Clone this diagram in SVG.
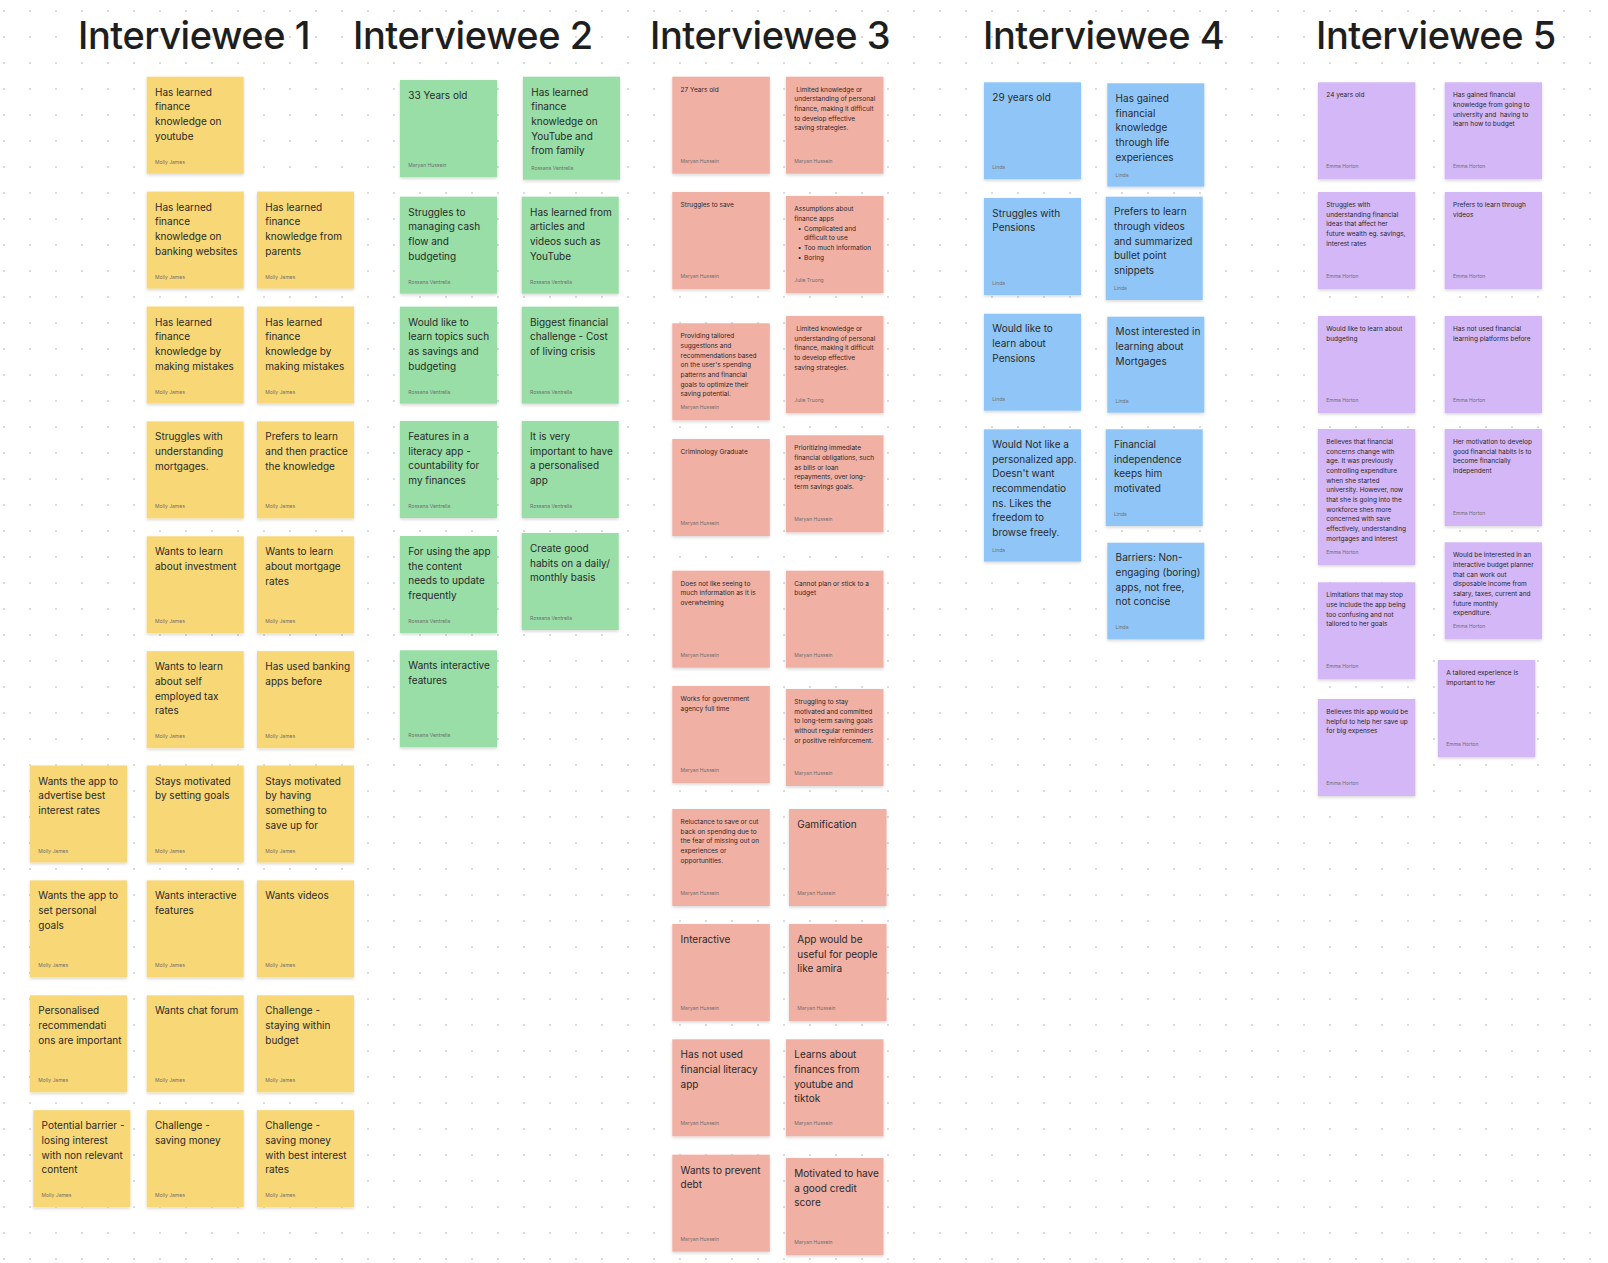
<svg xmlns="http://www.w3.org/2000/svg" width="1608" height="1263" viewBox="0 0 1608 1263">
<defs>
<pattern id="dots" x="-9" y="-2" width="26" height="26" patternUnits="userSpaceOnUse"><circle cx="13" cy="13" r="1" fill="#cfcfcf"/></pattern>
<filter id="sh" x="-10%" y="-10%" width="120%" height="125%"><feDropShadow dx="0" dy="1.5" stdDeviation="1.4" flood-color="#000" flood-opacity="0.16"/></filter>
<style>
.n{filter:url(#sh)}
.y{fill:#F7D776}.g{fill:#98DEA6}.s{fill:#F1B0A4}.b{fill:#90C6F7}.p{fill:#D3B7F6}
.t{font-family:Inter,"Noto Sans","Liberation Sans",sans-serif;font-size:10px;fill:#2a2a2a}
.ts{font-family:Inter,"Noto Sans","Liberation Sans",sans-serif;font-size:6.5px;fill:#2a2a2a}
.a{font-family:Inter,"Noto Sans","Liberation Sans",sans-serif;font-size:5px;fill:#6f6f6f}
.h{font-family:Inter,"Noto Sans","Liberation Sans",sans-serif;font-size:38px;letter-spacing:-0.45px;font-weight:500;fill:#1e1e1e}
</style>
</defs>
<rect width="1608" height="1263" fill="#ffffff"/>
<rect width="1608" height="1263" fill="url(#dots)"/>
<g id="titles">
<text class="h" x="78" y="49.3">Interviewee 1</text>
<text class="h" x="353" y="49.3">Interviewee 2</text>
<text class="h" x="650" y="49.3">Interviewee 3</text>
<text class="h" x="983" y="49.3">Interviewee 4</text>
<text class="h" x="1316" y="49.3">Interviewee 5</text>
</g>
<g id="connectors"></g>

<!-- Interviewee 1 -->
<g id="i1-1" transform="translate(146.7,76.7)"><rect class="n y" width="97" height="97"/><text class="t" y="19"><tspan x="8.3">Has learned</tspan><tspan x="8.3" dy="14.67">finance</tspan><tspan x="8.3" dy="14.67">knowledge on</tspan><tspan x="8.3" dy="14.67">youtube</tspan></text><text class="a" x="8.3" y="87">Molly James</text></g>
<g id="i1-2" transform="translate(146.7,191.6)"><rect class="n y" width="97" height="97"/><text class="t" y="19"><tspan x="8.3">Has learned</tspan><tspan x="8.3" dy="14.67">finance</tspan><tspan x="8.3" dy="14.67">knowledge on</tspan><tspan x="8.3" dy="14.67">banking websites</tspan></text><text class="a" x="8.3" y="87">Molly James</text></g>
<g id="i1-3" transform="translate(257,191.6)"><rect class="n y" width="97" height="97"/><text class="t" y="19"><tspan x="8.3">Has learned</tspan><tspan x="8.3" dy="14.67">finance</tspan><tspan x="8.3" dy="14.67">knowledge from</tspan><tspan x="8.3" dy="14.67">parents</tspan></text><text class="a" x="8.3" y="87">Molly James</text></g>
<g id="i1-4" transform="translate(146.7,306.5)"><rect class="n y" width="97" height="97"/><text class="t" y="19"><tspan x="8.3">Has learned</tspan><tspan x="8.3" dy="14.67">finance</tspan><tspan x="8.3" dy="14.67">knowledge by</tspan><tspan x="8.3" dy="14.67">making mistakes</tspan></text><text class="a" x="8.3" y="87">Molly James</text></g>
<g id="i1-5" transform="translate(257,306.5)"><rect class="n y" width="97" height="97"/><text class="t" y="19"><tspan x="8.3">Has learned</tspan><tspan x="8.3" dy="14.67">finance</tspan><tspan x="8.3" dy="14.67">knowledge by</tspan><tspan x="8.3" dy="14.67">making mistakes</tspan></text><text class="a" x="8.3" y="87">Molly James</text></g>
<g id="i1-6" transform="translate(146.7,421.4)"><rect class="n y" width="97" height="97"/><text class="t" y="19"><tspan x="8.3">Struggles with</tspan><tspan x="8.3" dy="14.67">understanding</tspan><tspan x="8.3" dy="14.67">mortgages.</tspan></text><text class="a" x="8.3" y="87">Molly James</text></g>
<g id="i1-7" transform="translate(257,421.4)"><rect class="n y" width="97" height="97"/><text class="t" y="19"><tspan x="8.3">Prefers to learn</tspan><tspan x="8.3" dy="14.67">and then practice</tspan><tspan x="8.3" dy="14.67">the knowledge</tspan></text><text class="a" x="8.3" y="87">Molly James</text></g>
<g id="i1-8" transform="translate(146.7,536.3)"><rect class="n y" width="97" height="97"/><text class="t" y="19"><tspan x="8.3">Wants to learn</tspan><tspan x="8.3" dy="14.67">about investment</tspan></text><text class="a" x="8.3" y="87">Molly James</text></g>
<g id="i1-9" transform="translate(257,536.3)"><rect class="n y" width="97" height="97"/><text class="t" y="19"><tspan x="8.3">Wants to learn</tspan><tspan x="8.3" dy="14.67">about mortgage</tspan><tspan x="8.3" dy="14.67">rates</tspan></text><text class="a" x="8.3" y="87">Molly James</text></g>
<g id="i1-10" transform="translate(146.7,651.2)"><rect class="n y" width="97" height="97"/><text class="t" y="19"><tspan x="8.3">Wants to learn</tspan><tspan x="8.3" dy="14.67">about self</tspan><tspan x="8.3" dy="14.67">employed tax</tspan><tspan x="8.3" dy="14.67">rates</tspan></text><text class="a" x="8.3" y="87">Molly James</text></g>
<g id="i1-11" transform="translate(257,651.2)"><rect class="n y" width="97" height="97"/><text class="t" y="19"><tspan x="8.3">Has used banking</tspan><tspan x="8.3" dy="14.67">apps before</tspan></text><text class="a" x="8.3" y="87">Molly James</text></g>
<g id="i1-12" transform="translate(30,765.5)"><rect class="n y" width="97" height="97"/><text class="t" y="19"><tspan x="8.3">Wants the app to</tspan><tspan x="8.3" dy="14.67">advertise best</tspan><tspan x="8.3" dy="14.67">interest rates</tspan></text><text class="a" x="8.3" y="87">Molly James</text></g>
<g id="i1-13" transform="translate(146.7,765.5)"><rect class="n y" width="97" height="97"/><text class="t" y="19"><tspan x="8.3">Stays motivated</tspan><tspan x="8.3" dy="14.67">by setting goals</tspan></text><text class="a" x="8.3" y="87">Molly James</text></g>
<g id="i1-14" transform="translate(257,765.5)"><rect class="n y" width="97" height="97"/><text class="t" y="19"><tspan x="8.3">Stays motivated</tspan><tspan x="8.3" dy="14.67">by having</tspan><tspan x="8.3" dy="14.67">something to</tspan><tspan x="8.3" dy="14.67">save up for</tspan></text><text class="a" x="8.3" y="87">Molly James</text></g>
<g id="i1-15" transform="translate(30,880.4)"><rect class="n y" width="97" height="97"/><text class="t" y="19"><tspan x="8.3">Wants the app to</tspan><tspan x="8.3" dy="14.67">set personal</tspan><tspan x="8.3" dy="14.67">goals</tspan></text><text class="a" x="8.3" y="87">Molly James</text></g>
<g id="i1-16" transform="translate(146.7,880.4)"><rect class="n y" width="97" height="97"/><text class="t" y="19"><tspan x="8.3">Wants interactive</tspan><tspan x="8.3" dy="14.67">features</tspan></text><text class="a" x="8.3" y="87">Molly James</text></g>
<g id="i1-17" transform="translate(257,880.4)"><rect class="n y" width="97" height="97"/><text class="t" y="19"><tspan x="8.3">Wants videos</tspan></text><text class="a" x="8.3" y="87">Molly James</text></g>
<g id="i1-18" transform="translate(30,995.3)"><rect class="n y" width="97" height="97"/><text class="t" y="19"><tspan x="8.3">Personalised</tspan><tspan x="8.3" dy="14.67">recommendati</tspan><tspan x="8.3" dy="14.67">ons are important</tspan></text><text class="a" x="8.3" y="87">Molly James</text></g>
<g id="i1-19" transform="translate(146.7,995.3)"><rect class="n y" width="97" height="97"/><text class="t" y="19"><tspan x="8.3">Wants chat forum</tspan></text><text class="a" x="8.3" y="87">Molly James</text></g>
<g id="i1-20" transform="translate(257,995.3)"><rect class="n y" width="97" height="97"/><text class="t" y="19"><tspan x="8.3">Challenge -</tspan><tspan x="8.3" dy="14.67">staying within</tspan><tspan x="8.3" dy="14.67">budget</tspan></text><text class="a" x="8.3" y="87">Molly James</text></g>
<g id="i1-21" transform="translate(33.3,1110.2)"><rect class="n y" width="97" height="97"/><text class="t" y="19"><tspan x="8.3">Potential barrier -</tspan><tspan x="8.3" dy="14.67">losing interest</tspan><tspan x="8.3" dy="14.67">with non relevant</tspan><tspan x="8.3" dy="14.67">content</tspan></text><text class="a" x="8.3" y="87">Molly James</text></g>
<g id="i1-22" transform="translate(146.7,1110.2)"><rect class="n y" width="97" height="97"/><text class="t" y="19"><tspan x="8.3">Challenge -</tspan><tspan x="8.3" dy="14.67">saving money</tspan></text><text class="a" x="8.3" y="87">Molly James</text></g>
<g id="i1-23" transform="translate(257,1110.2)"><rect class="n y" width="97" height="97"/><text class="t" y="19"><tspan x="8.3">Challenge -</tspan><tspan x="8.3" dy="14.67">saving money</tspan><tspan x="8.3" dy="14.67">with best interest</tspan><tspan x="8.3" dy="14.67">rates</tspan></text><text class="a" x="8.3" y="87">Molly James</text></g>

<!-- Interviewee 2 -->
<g id="i2-1" transform="translate(400,80)"><rect class="n g" width="97" height="97"/><text class="t" y="19"><tspan x="8.3">33 Years old</tspan></text><text class="a" x="8.3" y="87">Maryan Hussein</text></g>
<g id="i2-2" transform="translate(523,76.7)"><rect class="n g" width="97" height="103"/><text class="t" y="19"><tspan x="8.3">Has learned</tspan><tspan x="8.3" dy="14.67">finance</tspan><tspan x="8.3" dy="14.67">knowledge on</tspan><tspan x="8.3" dy="14.67">YouTube and</tspan><tspan x="8.3" dy="14.67">from family</tspan></text><text class="a" x="8.3" y="93">Rossana Ventrella</text></g>
<g id="i2-3" transform="translate(400,196.7)"><rect class="n g" width="97" height="97"/><text class="t" y="19"><tspan x="8.3">Struggles to</tspan><tspan x="8.3" dy="14.67">managing cash</tspan><tspan x="8.3" dy="14.67">flow and</tspan><tspan x="8.3" dy="14.67">budgeting</tspan></text><text class="a" x="8.3" y="87">Rossana Ventrella</text></g>
<g id="i2-4" transform="translate(521.7,196.7)"><rect class="n g" width="97" height="97"/><text class="t" y="19"><tspan x="8.3">Has learned from</tspan><tspan x="8.3" dy="14.67">articles and</tspan><tspan x="8.3" dy="14.67">videos such as</tspan><tspan x="8.3" dy="14.67">YouTube</tspan></text><text class="a" x="8.3" y="87">Rossana Ventrella</text></g>
<g id="i2-5" transform="translate(400,306.7)"><rect class="n g" width="97" height="97"/><text class="t" y="19"><tspan x="8.3">Would like to</tspan><tspan x="8.3" dy="14.67">learn topics such</tspan><tspan x="8.3" dy="14.67">as savings and</tspan><tspan x="8.3" dy="14.67">budgeting</tspan></text><text class="a" x="8.3" y="87">Rossana Ventrella</text></g>
<g id="i2-6" transform="translate(521.7,306.7)"><rect class="n g" width="97" height="97"/><text class="t" y="19"><tspan x="8.3">Biggest financial</tspan><tspan x="8.3" dy="14.67">challenge - Cost</tspan><tspan x="8.3" dy="14.67">of living crisis</tspan></text><text class="a" x="8.3" y="87">Rossana Ventrella</text></g>
<g id="i2-7" transform="translate(400,421)"><rect class="n g" width="97" height="97"/><text class="t" y="19"><tspan x="8.3">Features in a</tspan><tspan x="8.3" dy="14.67">literacy app -</tspan><tspan x="8.3" dy="14.67">countability for</tspan><tspan x="8.3" dy="14.67">my finances</tspan></text><text class="a" x="8.3" y="87">Rossana Ventrella</text></g>
<g id="i2-8" transform="translate(521.7,421)"><rect class="n g" width="97" height="97"/><text class="t" y="19"><tspan x="8.3">It is very</tspan><tspan x="8.3" dy="14.67">important to have</tspan><tspan x="8.3" dy="14.67">a personalised</tspan><tspan x="8.3" dy="14.67">app</tspan></text><text class="a" x="8.3" y="87">Rossana Ventrella</text></g>
<g id="i2-9" transform="translate(400,536)"><rect class="n g" width="97" height="97"/><text class="t" y="19"><tspan x="8.3">For using the app</tspan><tspan x="8.3" dy="14.67">the content</tspan><tspan x="8.3" dy="14.67">needs to update</tspan><tspan x="8.3" dy="14.67">frequently</tspan></text><text class="a" x="8.3" y="87">Rossana Ventrella</text></g>
<g id="i2-10" transform="translate(521.7,533)"><rect class="n g" width="97" height="97"/><text class="t" y="19"><tspan x="8.3">Create good</tspan><tspan x="8.3" dy="14.67">habits on a daily/</tspan><tspan x="8.3" dy="14.67">monthly basis</tspan></text><text class="a" x="8.3" y="87">Rossana Ventrella</text></g>
<g id="i2-11" transform="translate(400,650.3)"><rect class="n g" width="97" height="97"/><text class="t" y="19"><tspan x="8.3">Wants interactive</tspan><tspan x="8.3" dy="14.67">features</tspan></text><text class="a" x="8.3" y="87">Rossana Ventrella</text></g>

<!-- Interviewee 3 -->
<g id="i3-1" transform="translate(672.3,76.7)"><rect class="n s" width="97.5" height="97"/><text class="ts" y="15"><tspan x="8.3">27 Years old</tspan></text><text class="a" x="8.3" y="86">Maryan Hussein</text></g>
<g id="i3-2" transform="translate(786,76.7)"><rect class="n s" width="97.5" height="97"/><text class="ts" y="15"><tspan x="10.3">Limited knowledge or</tspan><tspan x="8.3" dy="9.67">understanding of personal</tspan><tspan x="8.3" dy="9.67">finance, making it difficult</tspan><tspan x="8.3" dy="9.67">to develop effective</tspan><tspan x="8.3" dy="9.67">saving strategies.</tspan></text><text class="a" x="8.3" y="86">Maryan Hussein</text></g>
<g id="i3-3" transform="translate(672.3,192)"><rect class="n s" width="97.5" height="97"/><text class="ts" y="15"><tspan x="8.3">Struggles to save</tspan></text><text class="a" x="8.3" y="86">Maryan Hussein</text></g>
<g id="i3-4" transform="translate(786,196)"><rect class="n s" width="97.5" height="97"/><text class="ts" y="15.3"><tspan x="8.3">Assumptions about</tspan><tspan x="8.3" dy="9.67">finance apps</tspan><tspan x="11.7" dy="9.67">•</tspan><tspan x="18" dy="0">Complicated and</tspan><tspan x="18" dy="9.67">difficult to use</tspan><tspan x="11.7" dy="9.67">•</tspan><tspan x="18" dy="0">Too much information</tspan><tspan x="11.7" dy="9.67">•</tspan><tspan x="18" dy="0">Boring</tspan></text><text class="a" x="8.3" y="86">Julie Truong</text></g>
<g id="i3-5" transform="translate(672.3,323.3)"><rect class="n s" width="97.5" height="97"/><text class="ts" y="15"><tspan x="8.3">Providing tailored</tspan><tspan x="8.3" dy="9.67">suggestions and</tspan><tspan x="8.3" dy="9.67">recommendations based</tspan><tspan x="8.3" dy="9.67">on the user's spending</tspan><tspan x="8.3" dy="9.67">patterns and financial</tspan><tspan x="8.3" dy="9.67">goals to optimize their</tspan><tspan x="8.3" dy="9.67">saving potential.</tspan></text><text class="a" x="8.3" y="86">Maryan Hussein</text></g>
<g id="i3-6" transform="translate(786,316)"><rect class="n s" width="97.5" height="97"/><text class="ts" y="15"><tspan x="10.3">Limited knowledge or</tspan><tspan x="8.3" dy="9.67">understanding of personal</tspan><tspan x="8.3" dy="9.67">finance, making it difficult</tspan><tspan x="8.3" dy="9.67">to develop effective</tspan><tspan x="8.3" dy="9.67">saving strategies.</tspan></text><text class="a" x="8.3" y="86">Julie Truong</text></g>
<g id="i3-7" transform="translate(672.3,439)"><rect class="n s" width="97.5" height="97"/><text class="ts" y="15"><tspan x="8.3">Criminology Graduate</tspan></text><text class="a" x="8.3" y="86">Maryan Hussein</text></g>
<g id="i3-8" transform="translate(786,435.3)"><rect class="n s" width="97.5" height="97"/><text class="ts" y="15"><tspan x="8.3">Prioritizing immediate</tspan><tspan x="8.3" dy="9.67">financial obligations, such</tspan><tspan x="8.3" dy="9.67">as bills or loan</tspan><tspan x="8.3" dy="9.67">repayments, over long-</tspan><tspan x="8.3" dy="9.67">term savings goals.</tspan></text><text class="a" x="8.3" y="86">Maryan Hussein</text></g>
<g id="i3-9" transform="translate(672.3,570.7)"><rect class="n s" width="97.5" height="97"/><text class="ts" y="15"><tspan x="8.3">Does not like seeing to</tspan><tspan x="8.3" dy="9.67">much information as it is</tspan><tspan x="8.3" dy="9.67">overwhelming</tspan></text><text class="a" x="8.3" y="86">Maryan Hussein</text></g>
<g id="i3-10" transform="translate(786,570.7)"><rect class="n s" width="97.5" height="97"/><text class="ts" y="15"><tspan x="8.3">Cannot plan or stick to a</tspan><tspan x="8.3" dy="9.67">budget</tspan></text><text class="a" x="8.3" y="86">Maryan Hussein</text></g>
<g id="i3-11" transform="translate(672.3,686)"><rect class="n s" width="97.5" height="97"/><text class="ts" y="15"><tspan x="8.3">Works for government</tspan><tspan x="8.3" dy="9.67">agency full time</tspan></text><text class="a" x="8.3" y="86">Maryan Hussein</text></g>
<g id="i3-12" transform="translate(786,689)"><rect class="n s" width="97.5" height="97"/><text class="ts" y="15"><tspan x="8.3">Struggling to stay</tspan><tspan x="8.3" dy="9.67">motivated and committed</tspan><tspan x="8.3" dy="9.67">to long-term saving goals</tspan><tspan x="8.3" dy="9.67">without regular reminders</tspan><tspan x="8.3" dy="9.67">or positive reinforcement.</tspan></text><text class="a" x="8.3" y="86">Maryan Hussein</text></g>
<g id="i3-13" transform="translate(672.3,809)"><rect class="n s" width="97.5" height="97"/><text class="ts" y="15"><tspan x="8.3">Reluctance to save or cut</tspan><tspan x="8.3" dy="9.67">back on spending due to</tspan><tspan x="8.3" dy="9.67">the fear of missing out on</tspan><tspan x="8.3" dy="9.67">experiences or</tspan><tspan x="8.3" dy="9.67">opportunities.</tspan></text><text class="a" x="8.3" y="86">Maryan Hussein</text></g>
<g id="i3-14" transform="translate(789,809)"><rect class="n s" width="97.5" height="97"/><text class="t" y="19"><tspan x="8.3">Gamification</tspan></text><text class="a" x="8.3" y="86">Maryan Hussein</text></g>
<g id="i3-15" transform="translate(672.3,924)"><rect class="n s" width="97.5" height="97"/><text class="t" y="19"><tspan x="8.3">Interactive</tspan></text><text class="a" x="8.3" y="86">Maryan Hussein</text></g>
<g id="i3-16" transform="translate(789,924)"><rect class="n s" width="97.5" height="97"/><text class="t" y="19"><tspan x="8.3">App would be</tspan><tspan x="8.3" dy="14.67">useful for people</tspan><tspan x="8.3" dy="14.67">like amira</tspan></text><text class="a" x="8.3" y="86">Maryan Hussein</text></g>
<g id="i3-17" transform="translate(672.3,1039.3)"><rect class="n s" width="97.5" height="97"/><text class="t" y="19"><tspan x="8.3">Has not used</tspan><tspan x="8.3" dy="14.67">financial literacy</tspan><tspan x="8.3" dy="14.67">app</tspan></text><text class="a" x="8.3" y="86">Maryan Hussein</text></g>
<g id="i3-18" transform="translate(786,1039.3)"><rect class="n s" width="97.5" height="97"/><text class="t" y="19"><tspan x="8.3">Learns about</tspan><tspan x="8.3" dy="14.67">finances from</tspan><tspan x="8.3" dy="14.67">youtube and</tspan><tspan x="8.3" dy="14.67">tiktok</tspan></text><text class="a" x="8.3" y="86">Maryan Hussein</text></g>
<g id="i3-19" transform="translate(672.3,1154.7)"><rect class="n s" width="97.5" height="97"/><text class="t" y="19"><tspan x="8.3">Wants to prevent</tspan><tspan x="8.3" dy="14.67">debt</tspan></text><text class="a" x="8.3" y="86">Maryan Hussein</text></g>
<g id="i3-20" transform="translate(786,1158)"><rect class="n s" width="97.5" height="97"/><text class="t" y="19"><tspan x="8.3">Motivated to have</tspan><tspan x="8.3" dy="14.67">a good credit</tspan><tspan x="8.3" dy="14.67">score</tspan></text><text class="a" x="8.3" y="86">Maryan Hussein</text></g>

<!-- Interviewee 4 -->
<g id="i4-1" transform="translate(984,82.3)"><rect class="n b" width="97" height="97"/><text class="t" y="18.6"><tspan x="8.3">29 years old</tspan></text><text class="a" x="8.3" y="87">Linda</text></g>
<g id="i4-2" transform="translate(1107.3,83.3)"><rect class="n b" width="97" height="103.3"/><text class="t" y="18.6"><tspan x="8.3">Has gained</tspan><tspan x="8.3" dy="14.67">financial</tspan><tspan x="8.3" dy="14.67">knowledge</tspan><tspan x="8.3" dy="14.67">through life</tspan><tspan x="8.3" dy="14.67">experiences</tspan></text><text class="a" x="8.3" y="93.3">Linda</text></g>
<g id="i4-3" transform="translate(984,198)"><rect class="n b" width="97" height="97"/><text class="t" y="18.6"><tspan x="8.3">Struggles with</tspan><tspan x="8.3" dy="14.67">Pensions</tspan></text><text class="a" x="8.3" y="87">Linda</text></g>
<g id="i4-4" transform="translate(1105.7,196.7)"><rect class="n b" width="97" height="103.3"/><text class="t" y="18.6"><tspan x="8.3">Prefers to learn</tspan><tspan x="8.3" dy="14.67">through videos</tspan><tspan x="8.3" dy="14.67">and summarized</tspan><tspan x="8.3" dy="14.67">bullet point</tspan><tspan x="8.3" dy="14.67">snippets</tspan></text><text class="a" x="8.3" y="93.3">Linda</text></g>
<g id="i4-5" transform="translate(984,313.7)"><rect class="n b" width="97" height="97"/><text class="t" y="18.6"><tspan x="8.3">Would like to</tspan><tspan x="8.3" dy="14.67">learn about</tspan><tspan x="8.3" dy="14.67">Pensions</tspan></text><text class="a" x="8.3" y="87">Linda</text></g>
<g id="i4-6" transform="translate(1107.3,316.7)"><rect class="n b" width="97" height="96"/><text class="t" y="18.6"><tspan x="8.3">Most interested in</tspan><tspan x="8.3" dy="14.67">learning about</tspan><tspan x="8.3" dy="14.67">Mortgages</tspan></text><text class="a" x="8.3" y="86">Linda</text></g>
<g id="i4-7" transform="translate(984,429.3)"><rect class="n b" width="97" height="132.3"/><text class="t" y="18.6"><tspan x="8.3">Would Not like a</tspan><tspan x="8.3" dy="14.67">personalized app.</tspan><tspan x="8.3" dy="14.67">Doesn't want</tspan><tspan x="8.3" dy="14.67">recommendatio</tspan><tspan x="8.3" dy="14.67">ns. Likes the</tspan><tspan x="8.3" dy="14.67">freedom to</tspan><tspan x="8.3" dy="14.67">browse freely.</tspan></text><text class="a" x="8.3" y="122.3">Linda</text></g>
<g id="i4-8" transform="translate(1105.7,429.3)"><rect class="n b" width="97" height="96.7"/><text class="t" y="18.6"><tspan x="8.3">Financial</tspan><tspan x="8.3" dy="14.67">independence</tspan><tspan x="8.3" dy="14.67">keeps him</tspan><tspan x="8.3" dy="14.67">motivated</tspan></text><text class="a" x="8.3" y="86.7">Linda</text></g>
<g id="i4-9" transform="translate(1107.3,542.7)"><rect class="n b" width="97" height="96.7"/><text class="t" y="18.6"><tspan x="8.3">Barriers: Non-</tspan><tspan x="8.3" dy="14.67">engaging (boring)</tspan><tspan x="8.3" dy="14.67">apps, not free,</tspan><tspan x="8.3" dy="14.67">not concise</tspan></text><text class="a" x="8.3" y="86.7">Linda</text></g>

<!-- Interviewee 5 -->
<g id="i5-1" transform="translate(1318,82.3)"><rect class="n p" width="97.3" height="97"/><text class="ts" y="15"><tspan x="8.3">24 years old</tspan></text><text class="a" x="8.3" y="86">Emma Horton</text></g>
<g id="i5-2" transform="translate(1444.7,82.3)"><rect class="n p" width="97.3" height="97"/><text class="ts" y="15"><tspan x="8.3">Has gained financial</tspan><tspan x="8.3" dy="9.67">knowledge from going to</tspan><tspan x="8.3" dy="9.67" xml:space="preserve">university and  having to</tspan><tspan x="8.3" dy="9.67">learn how to budget</tspan></text><text class="a" x="8.3" y="86">Emma Horton</text></g>
<g id="i5-3" transform="translate(1318,192)"><rect class="n p" width="97.3" height="97"/><text class="ts" y="15"><tspan x="8.3">Struggles with</tspan><tspan x="8.3" dy="9.67">understanding financial</tspan><tspan x="8.3" dy="9.67">ideas that affect her</tspan><tspan x="8.3" dy="9.67">future wealth eg. savings,</tspan><tspan x="8.3" dy="9.67">interest rates</tspan></text><text class="a" x="8.3" y="86">Emma Horton</text></g>
<g id="i5-4" transform="translate(1444.7,192)"><rect class="n p" width="97.3" height="97"/><text class="ts" y="15"><tspan x="8.3">Prefers to learn through</tspan><tspan x="8.3" dy="9.67">videos</tspan></text><text class="a" x="8.3" y="86">Emma Horton</text></g>
<g id="i5-5" transform="translate(1318,316)"><rect class="n p" width="97.3" height="97"/><text class="ts" y="15"><tspan x="8.3">Would like to learn about</tspan><tspan x="8.3" dy="9.67">budgeting</tspan></text><text class="a" x="8.3" y="86">Emma Horton</text></g>
<g id="i5-6" transform="translate(1444.7,316)"><rect class="n p" width="97.3" height="97"/><text class="ts" y="15"><tspan x="8.3">Has not used financial</tspan><tspan x="8.3" dy="9.67">learning platforms before</tspan></text><text class="a" x="8.3" y="86">Emma Horton</text></g>
<g id="i5-7" transform="translate(1318,429)"><rect class="n p" width="97.3" height="136"/><text class="ts" y="15"><tspan x="8.3">Believes that financial</tspan><tspan x="8.3" dy="9.67">concerns change with</tspan><tspan x="8.3" dy="9.67">age. It was previously</tspan><tspan x="8.3" dy="9.67">controlling expenditure</tspan><tspan x="8.3" dy="9.67">when she started</tspan><tspan x="8.3" dy="9.67">university. However, now</tspan><tspan x="8.3" dy="9.67">that she is going into the</tspan><tspan x="8.3" dy="9.67">workforce shes more</tspan><tspan x="8.3" dy="9.67">concerned with save</tspan><tspan x="8.3" dy="9.67">effectively, understanding</tspan><tspan x="8.3" dy="9.67">mortgages and interest</tspan></text><text class="a" x="8.3" y="125">Emma Horton</text></g>
<g id="i5-8" transform="translate(1444.7,429)"><rect class="n p" width="97.3" height="97"/><text class="ts" y="15"><tspan x="8.3">Her motivation to develop</tspan><tspan x="8.3" dy="9.67">good financial habits is to</tspan><tspan x="8.3" dy="9.67">become financially</tspan><tspan x="8.3" dy="9.67">independent</tspan></text><text class="a" x="8.3" y="86">Emma Horton</text></g>
<g id="i5-9" transform="translate(1444.7,542.3)"><rect class="n p" width="97.3" height="97"/><text class="ts" y="15"><tspan x="8.3">Would be interested in an</tspan><tspan x="8.3" dy="9.67">interactive budget planner</tspan><tspan x="8.3" dy="9.67">that can work out</tspan><tspan x="8.3" dy="9.67">disposable income from</tspan><tspan x="8.3" dy="9.67">salary, taxes, current and</tspan><tspan x="8.3" dy="9.67">future monthly</tspan><tspan x="8.3" dy="9.67">expenditure.</tspan></text><text class="a" x="8.3" y="86">Emma Horton</text></g>
<g id="i5-10" transform="translate(1318,582.3)"><rect class="n p" width="97.3" height="97"/><text class="ts" y="15"><tspan x="8.3">Limitations that may stop</tspan><tspan x="8.3" dy="9.67">use include the app being</tspan><tspan x="8.3" dy="9.67">too confusing and not</tspan><tspan x="8.3" dy="9.67">tailored to her goals</tspan></text><text class="a" x="8.3" y="86">Emma Horton</text></g>
<g id="i5-11" transform="translate(1438,660)"><rect class="n p" width="97.3" height="97"/><text class="ts" y="15"><tspan x="8.3">A tailored experience is</tspan><tspan x="8.3" dy="9.67">important to her</tspan></text><text class="a" x="8.3" y="86">Emma Horton</text></g>
<g id="i5-12" transform="translate(1318,699)"><rect class="n p" width="97.3" height="97"/><text class="ts" y="15"><tspan x="8.3">Believes this app would be</tspan><tspan x="8.3" dy="9.67">helpful to help her save up</tspan><tspan x="8.3" dy="9.67">for big expenses</tspan></text><text class="a" x="8.3" y="86">Emma Horton</text></g>
</svg>
